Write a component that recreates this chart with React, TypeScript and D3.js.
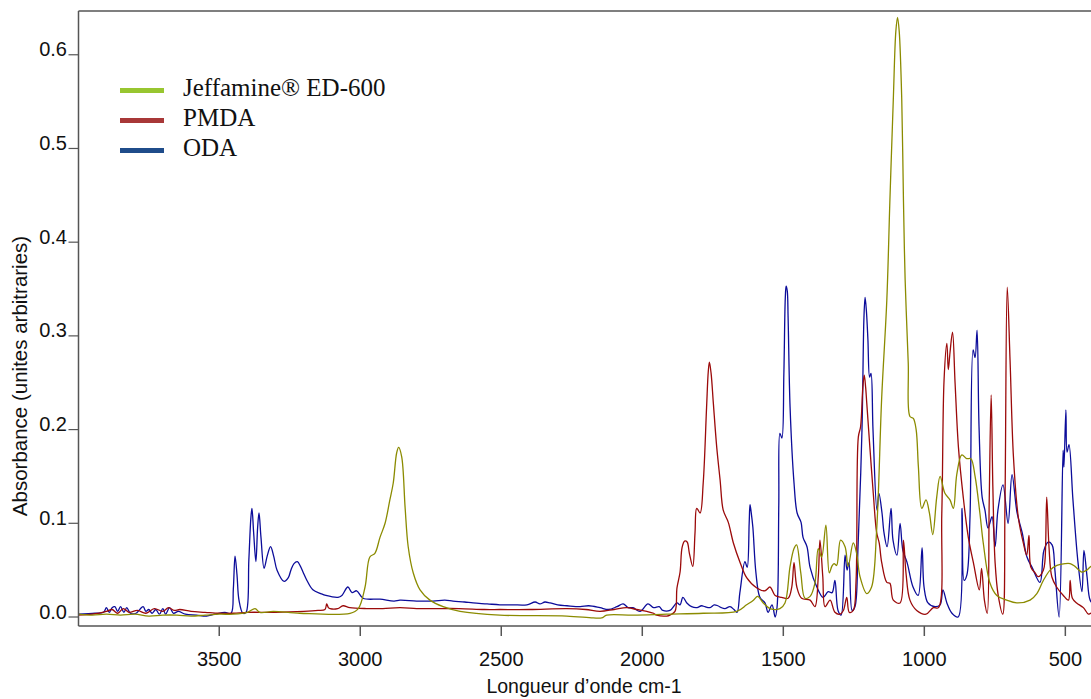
import React from "react";
import * as d3 from "d3";

// [wavenumber cm-1, absorbance]
const odaSpectrum: [number, number][] = [
  [4000, 0.003], [3940, 0.004], [3910, 0.005], [3900, 0.010], [3890, 0.005], [3880, 0.010],
  [3870, 0.011], [3860, 0.006], [3850, 0.011], [3838, 0.005], [3828, 0.010], [3815, 0.004],
  [3795, 0.004], [3770, 0.011], [3760, 0.006], [3750, 0.008], [3738, 0.004], [3725, 0.008],
  [3712, 0.003], [3700, 0.009], [3690, 0.003], [3676, 0.010], [3662, 0.004], [3645, 0.006],
  [3620, 0.003], [3580, 0.002], [3545, 0.001], [3515, 0.003], [3480, 0.005], [3458, 0.004],
  [3450, 0.030], [3444, 0.065], [3437, 0.045], [3430, 0.018], [3416, 0.004], [3405, 0.005],
  [3395, 0.061], [3388, 0.105], [3384, 0.116], [3378, 0.090], [3370, 0.059], [3364, 0.095],
  [3359, 0.111], [3352, 0.085], [3341, 0.052], [3330, 0.065], [3318, 0.075], [3307, 0.065],
  [3295, 0.050], [3270, 0.038], [3255, 0.042], [3246, 0.050], [3235, 0.057], [3223, 0.059],
  [3212, 0.054], [3203, 0.048], [3189, 0.039], [3168, 0.029], [3140, 0.025], [3122, 0.023],
  [3079, 0.021], [3065, 0.023], [3044, 0.032], [3029, 0.026], [3013, 0.028], [2990, 0.020],
  [2930, 0.019], [2880, 0.017], [2859, 0.018], [2800, 0.017], [2742, 0.017], [2700, 0.018],
  [2671, 0.017], [2630, 0.016], [2600, 0.015], [2550, 0.014], [2505, 0.013], [2460, 0.013],
  [2409, 0.013], [2380, 0.016], [2363, 0.014], [2345, 0.016], [2327, 0.015], [2300, 0.013],
  [2267, 0.012], [2220, 0.011], [2190, 0.012], [2150, 0.010], [2120, 0.008], [2090, 0.011],
  [2068, 0.014], [2050, 0.010], [2033, 0.010], [2008, 0.006], [1980, 0.014], [1960, 0.010],
  [1940, 0.011], [1927, 0.007], [1902, 0.007], [1877, 0.015], [1866, 0.013], [1856, 0.021],
  [1842, 0.015], [1825, 0.011], [1806, 0.010], [1790, 0.012], [1778, 0.011], [1760, 0.010],
  [1745, 0.013], [1732, 0.012], [1720, 0.010], [1707, 0.009], [1689, 0.011], [1675, 0.008],
  [1664, 0.005], [1654, 0.026], [1636, 0.059], [1628, 0.053], [1621, 0.100], [1618, 0.120],
  [1614, 0.112], [1608, 0.096], [1597, 0.047], [1583, 0.021], [1565, 0.015], [1554, 0.005],
  [1540, 0.013], [1529, 0.000], [1522, 0.011], [1516, 0.120], [1512, 0.196], [1505, 0.191],
  [1498, 0.260], [1493, 0.340], [1490, 0.353], [1486, 0.348], [1483, 0.320], [1476, 0.224],
  [1462, 0.143], [1451, 0.111], [1437, 0.101], [1430, 0.085], [1416, 0.075], [1405, 0.053],
  [1381, 0.032], [1359, 0.021], [1341, 0.027], [1327, 0.026], [1317, 0.039], [1306, 0.007],
  [1295, 0.002], [1281, 0.066], [1274, 0.050], [1267, 0.058], [1256, 0.007], [1246, 0.011],
  [1235, 0.075], [1221, 0.200], [1214, 0.320], [1210, 0.341], [1205, 0.325], [1200, 0.296],
  [1194, 0.256], [1189, 0.260], [1182, 0.200], [1168, 0.114], [1161, 0.132], [1150, 0.111],
  [1143, 0.090], [1132, 0.075], [1118, 0.116], [1111, 0.082], [1097, 0.066], [1086, 0.100],
  [1076, 0.071], [1061, 0.058], [1040, 0.032], [1022, 0.023], [1008, 0.074], [1001, 0.032],
  [987, 0.015], [962, 0.011], [944, 0.013], [934, 0.029], [920, 0.015], [902, 0.004],
  [880, 0.000], [866, 0.116], [859, 0.039], [849, 0.045], [838, 0.107], [827, 0.285],
  [820, 0.277], [813, 0.306], [806, 0.203], [795, 0.128], [785, 0.114], [774, 0.095],
  [760, 0.107], [749, 0.075], [739, 0.114], [721, 0.141], [703, 0.100], [689, 0.152],
  [671, 0.111], [653, 0.090], [636, 0.064], [618, 0.053], [590, 0.037], [576, 0.071],
  [561, 0.080], [547, 0.077], [537, 0.050], [522, 0.000], [508, 0.178], [505, 0.160],
  [498, 0.221], [494, 0.176], [487, 0.184], [473, 0.125], [455, 0.058], [441, 0.027],
  [434, 0.071], [423, 0.043], [412, 0.018], [398, 0.013],
];

const pmdaSpectrum: [number, number][] = [
  [4000, 0.002], [3950, 0.003], [3900, 0.006], [3880, 0.008], [3860, 0.004], [3840, 0.009],
  [3820, 0.005], [3790, 0.007], [3760, 0.004], [3730, 0.009], [3700, 0.006], [3680, 0.010],
  [3660, 0.007], [3640, 0.008], [3600, 0.006], [3550, 0.005], [3500, 0.004], [3450, 0.004],
  [3400, 0.005], [3300, 0.005], [3200, 0.006], [3150, 0.007], [3125, 0.008], [3119, 0.014],
  [3113, 0.010], [3107, 0.009], [3080, 0.009], [3061, 0.012], [3037, 0.010], [2977, 0.009],
  [2920, 0.009], [2859, 0.010], [2800, 0.009], [2742, 0.009], [2650, 0.009], [2560, 0.008],
  [2505, 0.008], [2400, 0.008], [2267, 0.009], [2200, 0.008], [2150, 0.006], [2100, 0.008],
  [2055, 0.010], [2020, 0.008], [1984, 0.006], [1960, 0.004], [1949, 0.002], [1913, 0.001],
  [1902, 0.002], [1884, 0.006], [1877, 0.031], [1866, 0.048], [1859, 0.074], [1850, 0.081],
  [1841, 0.080], [1833, 0.068], [1821, 0.054], [1813, 0.090], [1807, 0.116], [1795, 0.111],
  [1784, 0.143], [1772, 0.224], [1766, 0.262], [1762, 0.272], [1756, 0.260], [1748, 0.228],
  [1736, 0.181], [1724, 0.146], [1713, 0.114], [1695, 0.101], [1677, 0.079], [1653, 0.058],
  [1630, 0.042], [1594, 0.031], [1565, 0.028], [1547, 0.032], [1529, 0.023], [1506, 0.021],
  [1483, 0.020], [1470, 0.032], [1462, 0.058], [1452, 0.032], [1435, 0.020], [1405, 0.018],
  [1388, 0.011], [1376, 0.043], [1370, 0.082], [1360, 0.043], [1352, 0.011], [1334, 0.018],
  [1317, 0.005], [1299, 0.003], [1287, 0.007], [1275, 0.021], [1266, 0.005], [1252, 0.007],
  [1242, 0.039], [1234, 0.192], [1226, 0.203], [1218, 0.245], [1213, 0.258], [1208, 0.245],
  [1204, 0.228], [1193, 0.181], [1181, 0.132], [1169, 0.090], [1160, 0.079], [1151, 0.058],
  [1133, 0.037], [1122, 0.036], [1110, 0.018], [1086, 0.015], [1074, 0.082], [1065, 0.047],
  [1051, 0.018], [1027, 0.007], [994, 0.003], [968, 0.010], [950, 0.010], [938, 0.111],
  [930, 0.253], [920, 0.292], [915, 0.264], [909, 0.282], [900, 0.304], [891, 0.250],
  [879, 0.181], [862, 0.128], [844, 0.085], [826, 0.058], [805, 0.029], [797, 0.052],
  [787, 0.018], [777, 0.004], [770, 0.122], [763, 0.237], [757, 0.139], [749, 0.058],
  [738, 0.023], [722, 0.003], [714, 0.122], [706, 0.352], [696, 0.274], [684, 0.171],
  [667, 0.107], [649, 0.079], [637, 0.066], [629, 0.087], [622, 0.053], [607, 0.047],
  [596, 0.043], [578, 0.050], [572, 0.061], [566, 0.128], [558, 0.075], [548, 0.043],
  [531, 0.032], [507, 0.023], [489, 0.018], [483, 0.039], [475, 0.020], [460, 0.015],
  [436, 0.010], [418, 0.003], [409, 0.004], [398, 0.002],
];

const jeffamineSpectrum: [number, number][] = [
  [4000, 0.003], [3950, 0.002], [3900, 0.003], [3850, 0.002], [3800, 0.003], [3750, 0.001],
  [3700, 0.002], [3650, 0.002], [3600, 0.001], [3550, 0.002], [3500, 0.003], [3450, 0.003],
  [3400, 0.005], [3373, 0.009], [3356, 0.005], [3308, 0.006], [3214, 0.004], [3036, 0.004],
  [3007, 0.009], [2983, 0.032], [2966, 0.064], [2948, 0.068], [2930, 0.085], [2912, 0.100],
  [2895, 0.125], [2883, 0.143], [2871, 0.175], [2864, 0.181], [2853, 0.171], [2841, 0.117],
  [2830, 0.075], [2812, 0.047], [2788, 0.029], [2753, 0.018], [2706, 0.011], [2646, 0.006],
  [2505, 0.002], [2268, 0.001], [2174, -0.001], [2144, -0.001], [2126, 0.002], [2032, 0.002],
  [1913, 0.003], [1784, 0.004], [1665, 0.006], [1630, 0.013], [1606, 0.018], [1591, 0.022],
  [1571, 0.015], [1547, 0.009], [1512, 0.009], [1494, 0.015], [1476, 0.054], [1462, 0.073],
  [1453, 0.077], [1438, 0.047], [1423, 0.020], [1405, 0.022], [1388, 0.036], [1376, 0.073],
  [1364, 0.064], [1349, 0.098], [1337, 0.047], [1328, 0.054], [1320, 0.057], [1311, 0.055],
  [1297, 0.082], [1281, 0.075], [1270, 0.054], [1252, 0.079], [1240, 0.068], [1228, 0.043],
  [1204, 0.025], [1187, 0.032], [1169, 0.093], [1151, 0.235], [1133, 0.338], [1122, 0.445],
  [1110, 0.552], [1101, 0.625], [1095, 0.640], [1089, 0.625], [1080, 0.552], [1074, 0.445],
  [1068, 0.360], [1057, 0.271], [1051, 0.214], [1039, 0.212], [1029, 0.200], [1021, 0.160],
  [1009, 0.116], [994, 0.125], [982, 0.111], [970, 0.088], [956, 0.128], [944, 0.150],
  [927, 0.132], [909, 0.125], [897, 0.116], [885, 0.152], [867, 0.173], [850, 0.169],
  [835, 0.169], [820, 0.150], [803, 0.111], [791, 0.079], [767, 0.036], [743, 0.023],
  [708, 0.018], [672, 0.015], [625, 0.018], [601, 0.025], [578, 0.039], [554, 0.050],
  [530, 0.055], [501, 0.057], [483, 0.057], [466, 0.054], [442, 0.048], [424, 0.050],
  [409, 0.054], [398, 0.054],
];

const xTicks = [3500, 3000, 2500, 2000, 1500, 1000, 500];
const yTicks = [0, 0.1, 0.2, 0.3, 0.4, 0.5, 0.6];
const legendLabels = ["Jeffamine® ED-600", "PMDA", "ODA"];
const legendColors = ["#98c630", "#a83838", "#1f4c8a"];
const lineColors = ["#8b8b00", "#9b0a0a", "#0c0c9a"];
const xTitle = "Longueur d’onde cm-1";
const yTitle = "Absorbance (unites arbitraries)";

const W = 1091;
const H = 699;
const left = 78.5;
const right = 1091;
const top = 11;
const bottom = 626;

export default function App() {
  const x = d3.scaleLinear().domain([3999, 409]).range([left, right]);
  const y = d3.scaleLinear().domain([-0.0096, 0.6467]).range([bottom, top]);
  const line = d3
    .line<[number, number]>()
    .x((d) => x(d[0]))
    .y((d) => y(d[1]))
    .curve(d3.curveCatmullRom.alpha(0.5));
  const series = [jeffamineSpectrum, pmdaSpectrum, odaSpectrum];
  const fmt = d3.format(".1f");
  const axisColor = "#555";
  return (
    <svg
      width={W}
      height={H}
      style={{ position: "absolute", left: 0, top: 0, background: "#fff" }}
      fontFamily="'Liberation Sans', Arial, sans-serif"
    >
      <defs>
        <clipPath id="plotclip">
          <rect x={left} y={top} width={right - left + 5} height={bottom - top} />
        </clipPath>
      </defs>
      <rect x={0} y={0} width={W} height={H} fill="#fff" />
      <g clipPath="url(#plotclip)">
        {[odaSpectrum, pmdaSpectrum, jeffamineSpectrum].map((s, i) => {
          const idx = series.indexOf(s);
          return (
            <path
              key={i}
              d={line(s) || ""}
              fill="none"
              stroke={lineColors[idx]}
              strokeWidth={1.3}
              strokeLinejoin="round"
            />
          );
        })}
      </g>
      {/* frame */}
      <line x1={left} x2={left} y1={top} y2={bottom} stroke={axisColor} strokeWidth={1.5} />
      <line x1={left} x2={W} y1={top} y2={top} stroke={axisColor} strokeWidth={1.5} />
      <line x1={left} x2={W} y1={bottom} y2={bottom} stroke={axisColor} strokeWidth={1.5} />
      {/* y ticks */}
      {yTicks.map((t) => (
        <g key={t}>
          <line x1={left - 10} x2={left} y1={y(t)} y2={y(t)} stroke={axisColor} strokeWidth={1.2} />
          <text x={67} y={y(t) + 1.5} textAnchor="end" fontSize={20} fill="#111">
            {fmt(t)}
          </text>
        </g>
      ))}
      {/* x ticks */}
      {xTicks.map((t) => (
        <g key={t}>
          <line x1={x(t)} x2={x(t)} y1={bottom} y2={bottom + 10} stroke={axisColor} strokeWidth={1.5} />
          <text x={x(t)} y={666} textAnchor="middle" fontSize={20} fill="#111">
            {t}
          </text>
        </g>
      ))}
      <text x={584} y={693} textAnchor="middle" fontSize={19.5} fill="#111">
        {xTitle}
      </text>
      <text
        transform="translate(27,376) rotate(-90)"
        textAnchor="middle"
        fontSize={20.5}
        fill="#111"
      >
        {yTitle}
      </text>
      {/* legend */}
      {legendLabels.map((l, i) => (
        <g key={l}>
          <line
            x1={120}
            x2={164}
            y1={90.5 + i * 30}
            y2={90.5 + i * 30}
            stroke={legendColors[i]}
            strokeWidth={5}
          />
          <text
            x={183}
            y={95.5 + i * 30}
            fontSize={25}
            fontFamily="'Liberation Serif', 'Times New Roman', serif"
            fill="#111"
          >
            {l}
          </text>
        </g>
      ))}
    </svg>
  );
}
